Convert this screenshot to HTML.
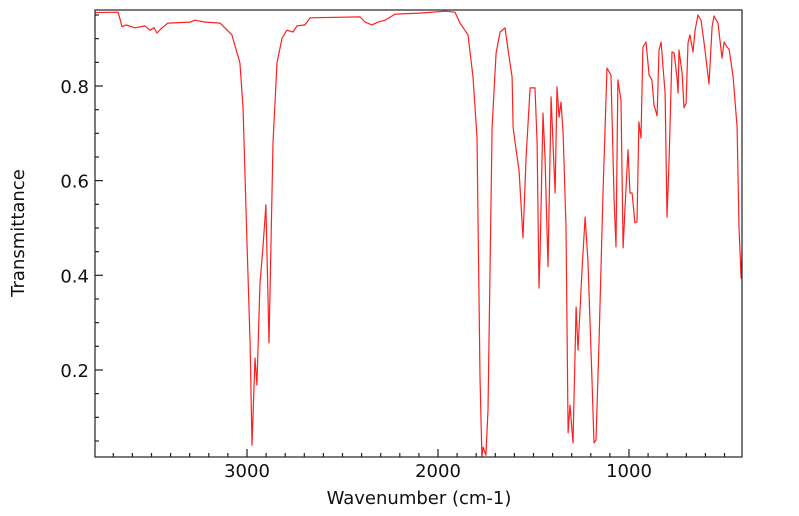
<!DOCTYPE html>
<html><head><meta charset="utf-8"><style>
html,body{margin:0;padding:0;background:#fff;}
svg{display:block;font-family:"DejaVu Sans","Liberation Sans",sans-serif;}
</style></head><body>
<svg id="chart" width="799" height="516" viewBox="0 0 799 516">
<g id="plot"></g>
</svg>
<script>
const wavenumbers=[3800,3675,3654,3634,3586,3534,3508,3487,3471,3445,3414,3298,3272,3220,3141,3079,3037,3021,3000,2984,2974,2958,2948,2932,2916,2901,2885,2864,2843,2817,2791,2759,2738,2696,2670,2408,2382,2346,2314,2277,2225,2094,1963,1911,1885,1843,1817,1796,1780,1770,1764,1749,1738,1717,1696,1675,1649,1633,1612,1607,1591,1576,1555,1539,1518,1492,1481,1471,1466,1450,1440,1424,1408,1387,1377,1366,1356,1345,1330,1319,1309,1293,1277,1267,1246,1230,1215,1194,1183,1173,1157,1136,1115,1094,1078,1068,1058,1042,1031,1021,1005,995,984,969,958,948,937,927,911,895,880,869,853,843,832,822,811,801,790,775,764,749,743,738,722,712,701,691,681,665,654,639,623,607,591,581,565,555,534,513,502,487,476,455,434,424,413,403];
const transmittance=[0.955,0.956,0.925,0.929,0.923,0.927,0.918,0.923,0.912,0.923,0.933,0.935,0.939,0.935,0.933,0.908,0.849,0.756,0.468,0.257,0.041,0.225,0.168,0.384,0.460,0.549,0.257,0.680,0.849,0.901,0.918,0.914,0.927,0.929,0.944,0.946,0.935,0.929,0.935,0.939,0.952,0.954,0.958,0.956,0.933,0.908,0.819,0.692,0.185,0.016,0.037,0.020,0.115,0.713,0.870,0.914,0.923,0.876,0.819,0.713,0.665,0.623,0.479,0.650,0.796,0.796,0.680,0.373,0.437,0.743,0.650,0.418,0.777,0.574,0.798,0.734,0.766,0.701,0.502,0.067,0.126,0.046,0.333,0.242,0.411,0.523,0.432,0.185,0.046,0.052,0.257,0.574,0.838,0.823,0.559,0.460,0.813,0.770,0.458,0.542,0.665,0.574,0.574,0.511,0.513,0.724,0.690,0.882,0.893,0.823,0.813,0.760,0.737,0.876,0.893,0.840,0.785,0.523,0.644,0.872,0.870,0.819,0.785,0.876,0.827,0.754,0.764,0.891,0.908,0.872,0.918,0.950,0.939,0.891,0.838,0.804,0.925,0.948,0.933,0.859,0.893,0.882,0.878,0.819,0.713,0.502,0.394,0.502];
const xTickLabels=[3000,2000,1000];
const yTickLabels=[0.2,0.4,0.6,0.8];

const L=95,R=742,T=10,B=457;
const xs=wn=>247+(3000-wn)*0.191;
const ys=t=>86+(0.8-t)*473.3;
const NS='http://www.w3.org/2000/svg';
const svg=document.getElementById('chart');
function mk(tag,attrs,parent){const e=document.createElementNS(NS,tag);for(const k in attrs)e.setAttribute(k,attrs[k]);(parent||svg).appendChild(e);return e;}

const clip=mk('clipPath',{id:'clp'});
mk('rect',{x:L,y:T,width:R-L,height:B-T},clip);

let d='';
for(let i=0;i<wavenumbers.length;i++){d+=(i?'L':'M')+xs(wavenumbers[i]).toFixed(1)+','+ys(transmittance[i]).toFixed(1);}
const line=mk('path',{d:d,fill:'none',stroke:'#ff2020','stroke-width':1.2,'clip-path':'url(#clp)','stroke-linejoin':'round'});



const frame=mk('rect',{x:L,y:T,width:R-L,height:B-T,fill:'none',stroke:'#222','stroke-width':1.2});



for(let w=3700;w>=500;w-=100){
  const x=xs(w);const major=w%1000===0;
  const t=mk('line',{x1:x,x2:x,y1:B,y2:B-(major?8:4),stroke:'#222','stroke-width':1.2});
  
  
}
xTickLabels.forEach(v=>{
  const t=mk('text',{x:xs(v),y:B+20,'text-anchor':'middle','font-size':18,fill:'#111'});
  t.textContent=v;
  
  
});
for(let k=1;k<=19;k++){
  const v=k*0.05;const y=ys(v);if(y<T||y>B)continue;
  const major=k%4===0;
  const t=mk('line',{x1:L,x2:L+(major?8:4),y1:y,y2:y,stroke:'#222','stroke-width':1.2});
  
  
}
yTickLabels.forEach(v=>{
  const t=mk('text',{x:L-6,y:ys(v)+7,'text-anchor':'end','font-size':18,fill:'#111'});
  t.textContent=v.toFixed(1);
  
  
});
const xt=mk('text',{x:419,y:504,'text-anchor':'middle','font-size':18,fill:'#111'});
xt.textContent='Wavenumber (cm-1)';


const yt=mk('text',{x:0,y:0,'text-anchor':'middle','font-size':18,fill:'#111',transform:'translate(24,233) rotate(-90)'});
yt.textContent='Transmittance';


</script>
</body></html>
